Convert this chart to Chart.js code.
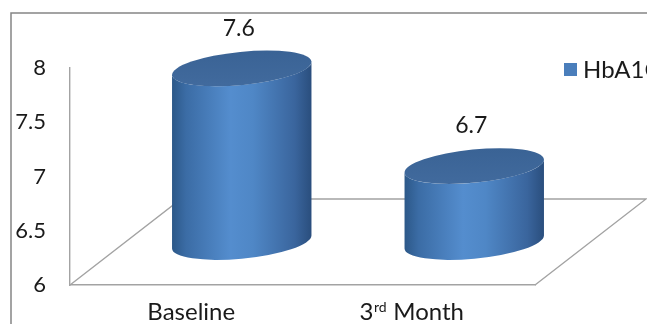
<!DOCTYPE html>
<html>
<head>
<meta charset="utf-8">
<script src="https://cdn.jsdelivr.net/npm/chart.js@4/dist/chart.umd.min.js"></script>
<style>
  html, body { margin: 0; padding: 0; background: #ffffff; }
  #wrap { width: 647px; height: 324px; position: relative; }
</style>
</head>
<body>
<div id="wrap"><canvas id="chart"></canvas></div>
<script>
// HbA1C at baseline and after three months
const categories = ['Baseline', '3rd Month'];
const hba1cValues = [7.6, 6.7];
const seriesLabel = 'HbA1C';
const yTicks = [6, 6.5, 7, 7.5, 8];

const FONT_FAMILY = 'Lato, "Open Sans", "Noto Sans", sans-serif';
const TEXT_COLOR = '#1a1a1a';
const FRAME_COLOR = '#a3a3a3';
const SERIES_COLOR = '#4a7ebb';

// receding depth of the 3D floor (pixels)
const DEPTH = { dx: 111, dy: -86 };
// tilt and flattening of the cylinder ellipses
const ELLIPSE = { rot: -0.098, aRatio: 1.004, bRatio: 0.238 };

function ellipseTangents(a, b, rot) {
  const t0 = Math.atan2(-b * Math.sin(rot), a * Math.cos(rot));
  const pt = (t) => ({
    t,
    x: a * Math.cos(t) * Math.cos(rot) - b * Math.sin(t) * Math.sin(rot),
    y: a * Math.cos(t) * Math.sin(rot) + b * Math.sin(t) * Math.cos(rot)
  });
  const p1 = pt(t0), p2 = pt(t0 + Math.PI);
  return p1.x > 0 ? { right: p1, left: p2 } : { right: p2, left: p1 };
}

function drawCylinder(ctx, cx, baseY, topY, halfW) {
  const a = halfW * ELLIPSE.aRatio;
  const b = halfW * ELLIPSE.bRatio;
  const rot = ELLIPSE.rot;
  const tg = ellipseTangents(a, b, rot);

  const side = ctx.createLinearGradient(cx - halfW, 0, cx + halfW, 0);
  side.addColorStop(0.00, '#2c5888');
  side.addColorStop(0.10, '#3b6ca5');
  side.addColorStop(0.42, '#548dce');
  side.addColorStop(0.58, '#4f87c6');
  side.addColorStop(0.88, '#3a659d');
  side.addColorStop(1.00, '#2a4e7d');

  ctx.save();
  ctx.beginPath();
  ctx.moveTo(cx + tg.left.x, topY + tg.left.y);
  ctx.lineTo(cx + tg.left.x, baseY + tg.left.y);
  ctx.ellipse(cx, baseY, a, b, rot, tg.left.t, tg.right.t, true);
  ctx.lineTo(cx + tg.right.x, topY + tg.right.y);
  ctx.ellipse(cx, topY, a, b, rot, tg.right.t, tg.left.t, false);
  ctx.closePath();
  ctx.fillStyle = side;
  ctx.fill();

  const top = ctx.createLinearGradient(0, topY - b, 0, topY + b);
  top.addColorStop(0, '#3a6395');
  top.addColorStop(1, '#416a9d');
  ctx.beginPath();
  ctx.ellipse(cx, topY, a, b, rot, 0, Math.PI * 2);
  ctx.fillStyle = top;
  ctx.fill();
  ctx.restore();
}

function drawCategoryLabel(ctx, text, x, y) {
  const m = /^(\d+)(st|nd|rd|th)(.*)$/.exec(text);
  ctx.save();
  ctx.fillStyle = TEXT_COLOR;
  ctx.textBaseline = 'alphabetic';
  ctx.textAlign = 'left';
  const big = '24px ' + FONT_FAMILY;
  const small = '14px ' + FONT_FAMILY;
  if (!m) {
    ctx.font = big;
    const w = ctx.measureText(text).width;
    ctx.fillText(text, x - w / 2, y);
  } else {
    ctx.font = big;
    const w1 = ctx.measureText(m[1]).width;
    const w3 = ctx.measureText(m[3]).width;
    ctx.font = small;
    const w2 = ctx.measureText(m[2]).width + 1;
    let px = x - (w1 + w2 + w3) / 2;
    ctx.font = big;
    ctx.fillText(m[1], px, y);
    px += w1;
    ctx.font = small;
    ctx.fillText(m[2], px + 0.5, y - 8);
    px += w2;
    ctx.font = big;
    ctx.fillText(m[3], px, y);
  }
  ctx.restore();
}

const cylinderPlugin = {
  id: 'cylinders',
  beforeDatasetsDraw(chart) {
    const { ctx, chartArea } = chart;
    const L = chartArea.left, R = chartArea.right, B = chartArea.bottom;
    ctx.save();
    // outer frame
    ctx.strokeStyle = '#858585';
    ctx.lineWidth = 1.5;
    ctx.strokeRect(11, 13, 800, 400);
    // floor of the 3D plot
    ctx.strokeStyle = FRAME_COLOR;
    ctx.lineWidth = 1.4;
    ctx.beginPath();
    ctx.moveTo(L, B);
    ctx.lineTo(L + DEPTH.dx, B + DEPTH.dy);
    ctx.lineTo(R + DEPTH.dx, B + DEPTH.dy);
    ctx.lineTo(R, B);
    ctx.stroke();
    ctx.restore();
  },
  beforeDatasetDraw() {
    return false; // bars are rendered as cylinders below
  },
  afterDatasetsDraw(chart) {
    const { ctx } = chart;
    const yScale = chart.scales.y;
    const meta = chart.getDatasetMeta(0);
    const values = chart.data.datasets[0].data;
    const baseVal = yScale.min;
    meta.data.forEach((bar, i) => {
      const cx = bar.x + DEPTH.dx / 2;
      const baseY = yScale.getPixelForValue(baseVal) + DEPTH.dy / 2;
      const topY = yScale.getPixelForValue(values[i]) + DEPTH.dy / 2;
      drawCylinder(ctx, cx, baseY, topY, bar.width / 2);
      // value label above the cylinder
      ctx.save();
      ctx.fillStyle = TEXT_COLOR;
      ctx.font = '23px ' + FONT_FAMILY;
      ctx.textAlign = 'center';
      ctx.textBaseline = 'middle';
      ctx.fillText(String(values[i]), cx - 3, topY - 40);
      ctx.restore();
    });
  },
  afterDraw(chart) {
    const { ctx } = chart;
    const xScale = chart.scales.x;
    chart.data.labels.forEach((lab, i) => {
      drawCategoryLabel(ctx, lab, xScale.getPixelForValue(i) + (i === 0 ? 5 : -7), 320);
    });
    // legend
    const ds = chart.data.datasets[0];
    ctx.save();
    ctx.fillStyle = ds.backgroundColor;
    ctx.fillRect(564, 63, 13, 13);
    ctx.fillStyle = TEXT_COLOR;
    ctx.font = '24px ' + FONT_FAMILY;
    ctx.textAlign = 'left';
    ctx.textBaseline = 'middle';
    ctx.fillText(ds.label, 583, 70);
    ctx.restore();
  }
};

new Chart(document.getElementById('chart'), {
  type: 'bar',
  data: {
    labels: categories,
    datasets: [{
      label: seriesLabel,
      data: hba1cValues,
      backgroundColor: SERIES_COLOR,
      categoryPercentage: 1.0,
      barPercentage: 0.6
    }]
  },
  options: {
    responsive: true,
    maintainAspectRatio: false,
    animation: false,
    layout: { padding: { left: 0, right: 112, top: 68, bottom: 0 } },
    plugins: { legend: { display: false }, tooltip: { enabled: false } },
    scales: {
      x: {
        grid: { display: false, drawTicks: false },
        border: { display: true, color: FRAME_COLOR, width: 1.4 },
        ticks: { display: false },
        afterFit(scale) { scale.height = 39; }
      },
      y: {
        min: yTicks[0],
        max: yTicks[yTicks.length - 1],
        afterBuildTicks(scale) { scale.ticks = yTicks.map(v => ({ value: v })); },
        grid: { display: false, drawTicks: false },
        border: { display: true, color: FRAME_COLOR, width: 1.4 },
        ticks: {
          color: TEXT_COLOR,
          font: { family: FONT_FAMILY, size: 22 },
          padding: 24,
          callback: (v) => String(v)
        },
        afterFit(scale) { scale.width = 70; }
      }
    }
  },
  plugins: [cylinderPlugin]
});
</script>
</body>
</html>
